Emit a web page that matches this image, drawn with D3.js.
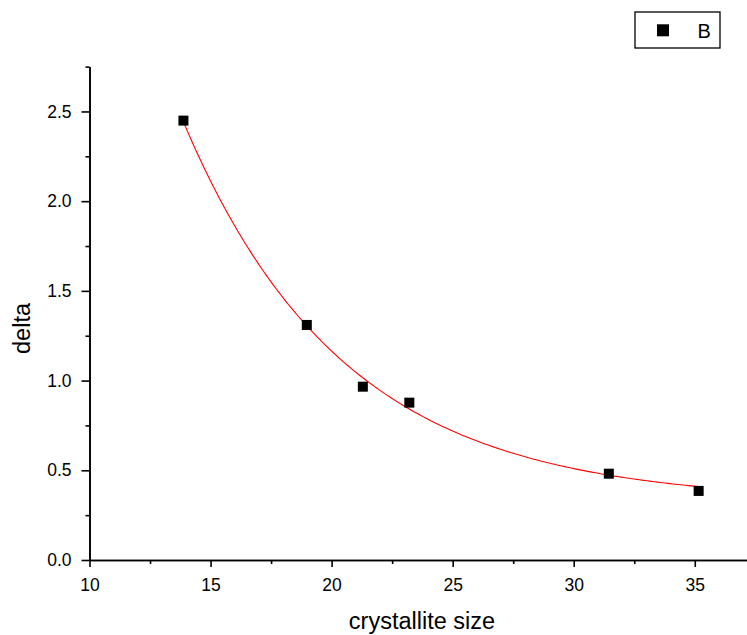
<!DOCTYPE html>
<html>
<head>
<meta charset="utf-8">
<script src="https://cdn.jsdelivr.net/npm/d3@7"></script>
<style>
  html, body { margin: 0; padding: 0; background: #fff; }
  svg { display: block; font-family: Arial, "Liberation Sans", sans-serif; }
</style>
</head>
<body>
<svg id="chart" width="747" height="635"></svg>
<script>
// Measured points: crystallite size vs. delta
const crystalliteSize = [13.88, 18.975, 21.29, 23.21, 31.45, 35.16];
const delta = [2.449, 1.310, 0.966, 0.877, 0.481, 0.385];

// Exponential decay fit: y = y0 + A * exp(-x / t)
const fitY0 = 0.324;
const fitA = 17.24;
const fitT = 6.62;

const xMajorTicks = [10, 15, 20, 25, 30, 35];
const xMinorTicks = [12.5, 17.5, 22.5, 27.5, 32.5, 37.5];
const yMajorTicks = [0, 0.5, 1.0, 1.5, 2.0, 2.5];
const yMinorTicks = [0.25, 0.75, 1.25, 1.75, 2.25, 2.75];

const seriesName = "B";
const xTitle = "crystallite size";
const yTitle = "delta";

const svg = d3.select("#chart");

const x = d3.scaleLinear().domain([10, 37.5]).range([89.5, 755.3]);
const y = d3.scaleLinear().domain([0, 2.75]).range([560, 66.6]);

const axisColor = "#000";
const axisWidth = 1.6;

// Minor ticks drawn first, then the major axes on top
const xMinor = svg.append("g").attr("transform", "translate(0,560)")
  .call(d3.axisBottom(x).tickValues(xMinorTicks).tickSize(4).tickSizeOuter(0).tickFormat(""));
const yMinor = svg.append("g").attr("transform", "translate(89.5,0)")
  .call(d3.axisLeft(y).tickValues(yMinorTicks).tickSize(4).tickSizeOuter(0).tickFormat(""));

const xAxis = svg.append("g").attr("transform", "translate(0,560)")
  .call(d3.axisBottom(x).tickValues(xMajorTicks).tickSize(7).tickSizeOuter(0).tickPadding(12)
    .tickFormat(d3.format("d")));
const yAxis = svg.append("g").attr("transform", "translate(89.5,0)")
  .call(d3.axisLeft(y).tickValues(yMajorTicks).tickSize(8).tickSizeOuter(0).tickPadding(10)
    .tickFormat(d3.format(".1f")));

[xMinor, yMinor, xAxis, yAxis].forEach(g => {
  g.attr("font-size", null).attr("font-family", null);
  g.selectAll("path.domain").attr("stroke", axisColor).attr("stroke-width", axisWidth);
  g.selectAll(".tick line").attr("stroke", axisColor).attr("stroke-width", axisWidth);
  g.selectAll(".tick text").attr("fill", "#000").style("font-size", "17.5px")
    .style("font-family", 'Arial, "Liberation Sans", sans-serif');
});

// Axis titles
svg.append("text")
  .attr("x", 422).attr("y", 629)
  .attr("text-anchor", "middle")
  .style("font-size", "23.5px")
  .text(xTitle);

svg.append("text")
  .attr("transform", "translate(29.5,328.5) rotate(-90)")
  .attr("text-anchor", "middle")
  .style("font-size", "23.5px")
  .text(yTitle);

// Fitted curve across the measured range
const xMin = d3.min(crystalliteSize), xMax = d3.max(crystalliteSize);
const fitXs = d3.range(0, 201).map(i => xMin + (xMax - xMin) * i / 200);
const fitLine = d3.line()
  .x(d => x(d))
  .y(d => y(fitY0 + fitA * Math.exp(-d / fitT)));

svg.append("path")
  .datum(fitXs)
  .attr("d", fitLine)
  .attr("fill", "none")
  .attr("stroke", "#ff0000")
  .attr("stroke-width", 1.1);

// Data markers
const markerSize = 10;
svg.append("g").selectAll("rect")
  .data(crystalliteSize.map((v, i) => [v, delta[i]]))
  .join("rect")
  .attr("x", d => x(d[0]) - markerSize / 2)
  .attr("y", d => y(d[1]) - markerSize / 2)
  .attr("width", markerSize)
  .attr("height", markerSize)
  .attr("fill", "#000");

// Legend
const legend = svg.append("g");
legend.append("rect")
  .attr("x", 635).attr("y", 12)
  .attr("width", 85).attr("height", 36)
  .attr("fill", "#fff")
  .attr("stroke", "#000")
  .attr("stroke-width", 1.3);
legend.append("rect")
  .attr("x", 657).attr("y", 24.3)
  .attr("width", 12).attr("height", 12)
  .attr("fill", "#000");
legend.append("text")
  .attr("x", 697.5).attr("y", 37.7)
  .style("font-size", "20px")
  .text(seriesName);
</script>
</body>
</html>
